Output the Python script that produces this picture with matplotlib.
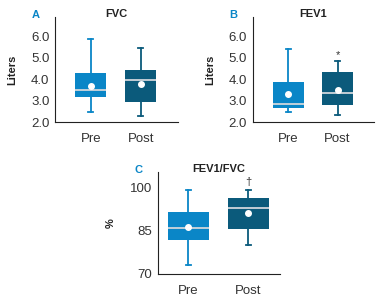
import matplotlib.pyplot as plt

plt.rcParams['font.family'] = ['Liberation Sans Narrow', 'Liberation Sans', 'DejaVu Sans']

groups = ["Pre", "Post"]
colors = ["#0a86c7", "#0b5a7b"]

# box stats: whislo, q1, median, q3, whishi, mean
fvc_pre = [2.45, 3.15, 3.5, 4.31, 5.9, 3.7]
fvc_post = [2.27, 2.93, 3.97, 4.45, 5.48, 3.78]
fev1_pre = [2.45, 2.67, 2.86, 3.88, 5.42, 3.33]
fev1_post = [2.31, 2.81, 3.36, 4.35, 4.86, 3.49]
ratio_pre = [73.1, 81.6, 85.9, 91.5, 99.0, 86.2]
ratio_post = [80.0, 85.4, 92.6, 96.3, 99.0, 91.1]

yticks_l = [2.0, 3.0, 4.0, 5.0, 6.0]
yticks_p = [70, 85, 100]


def stats(vals, label):
    lo, q1, med, q3, hi, mean = vals
    return dict(label=label, whislo=lo, q1=q1, med=med, q3=q3, whishi=hi, mean=mean)


def panel(ax, pre, post, title, letter, ylabel, ylim, yticks, fmt, width, capw, marks=None):
    data = [stats(pre, "Pre"), stats(post, "Post")]
    for i, d in enumerate(data):
        ax.bxp([d], positions=[i + 1], widths=width, showmeans=True, patch_artist=True,
               showfliers=False, capwidths=[capw],
               boxprops=dict(facecolor=colors[i], edgecolor=colors[i], linewidth=0),
               whiskerprops=dict(color=colors[i], linewidth=1.3),
               capprops=dict(color=colors[i], linewidth=1.3),
               medianprops=dict(color="#d0d6dc", linewidth=1.3),
               meanprops=dict(marker="o", markerfacecolor="white", markeredgecolor="white",
                              markersize=4))
    ax.set_xticks([1, 2])
    ax.set_xticklabels(groups, fontsize=9.5, color="#333333")
    ax.set_ylim(*ylim)
    ax.set_yticks(yticks)
    ax.set_yticklabels([fmt.format(t) for t in yticks], fontsize=9.5, color="#333333")
    ax.tick_params(axis="y", length=0, pad=4)
    ax.tick_params(axis="x", length=0, pad=8)
    for s in ["top", "right"]:
        ax.spines[s].set_visible(False)
    ax.spines["left"].set_color("#222222")
    ax.spines["bottom"].set_color("#222222")
    ax.text(0.5, 1.0, title, transform=ax.transAxes, fontsize=8, fontweight="bold",
            color="#222222", ha="center", va="baseline")
    ax.set_ylabel(ylabel, fontsize=8, fontweight="bold", color="#222222", labelpad=10)
    ax.text(-0.19, 1.07, letter, transform=ax.transAxes, fontsize=8, fontweight="bold",
            color="#0a86c7", va="top", ha="left")
    if marks:
        for x, y, s in marks:
            ax.text(x, y, s, ha="center", va="center", fontsize=8, color="#333333")


fig = plt.figure(figsize=(3.76, 3.06), dpi=100)
ax1 = fig.add_axes([0.146, 0.601, 0.327, 0.343])
ax2 = fig.add_axes([0.672, 0.601, 0.323, 0.343])
ax3 = fig.add_axes([0.419, 0.105, 0.326, 0.334])

panel(ax1, fvc_pre, fvc_post, "FVC", "A", "Liters", (2.0, 6.9), yticks_l, "{:.1f}", 0.62, 0.1)
ax1.set_xlim(0.28, 2.74)
panel(ax2, fev1_pre, fev1_post, "FEV1", "B", "Liters", (2.0, 6.9), yticks_l, "{:.1f}", 0.62, 0.1,
      marks=[(2, 5.15, "*")])
ax2.set_xlim(0.28, 2.74)
panel(ax3, ratio_pre, ratio_post, "FEV1/FVC", "C", "%", (70, 105.3), yticks_p, "{:d}", 0.68, 0.08,
      marks=[(2, 101.8, "\u2020")])
ax3.set_xlim(0.49, 2.53)

fig.savefig("out.png", dpi=100)
